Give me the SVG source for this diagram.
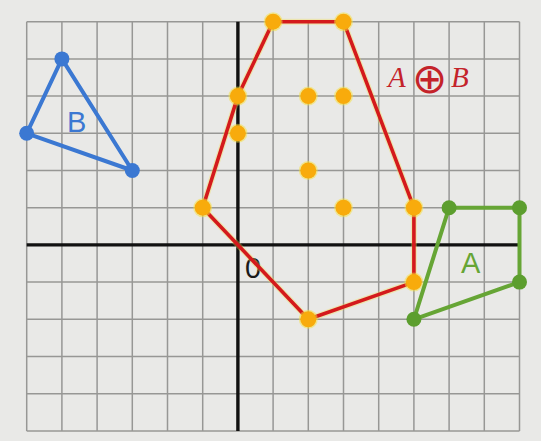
<svg xmlns="http://www.w3.org/2000/svg" width="541" height="441" viewBox="0 0 541 441">
<style>
.grid line{stroke:#979795;stroke-width:1.5}
.axis{stroke:#111;stroke-width:3.4}
.red{fill:none;stroke:#d41a1c;stroke-width:3.6;stroke-linejoin:round}
.redglow{fill:none;stroke:#f4e04a;stroke-width:6;stroke-linejoin:round;opacity:0.35}
.pt{fill:#f8ab0c}
.ptglow{fill:#f6e23c;opacity:0.5}
.blue{fill:none;stroke:#3b78d2;stroke-width:4;stroke-linejoin:round}
.bdot{fill:#3b78d2}
.green{fill:none;stroke:#66a535;stroke-width:4;stroke-linejoin:round}
.gdot{fill:#5c9e2e}
.lbl{font-family:"Liberation Sans",Arial,sans-serif;font-size:29px}
</style>
<rect width="541" height="441" fill="#e9e9e7"/>
<g class="grid" id="grid">
<line x1="26.7" y1="21.7" x2="26.7" y2="431"/>
<line x1="61.9" y1="21.7" x2="61.9" y2="431"/>
<line x1="97.1" y1="21.7" x2="97.1" y2="431"/>
<line x1="132.3" y1="21.7" x2="132.3" y2="431"/>
<line x1="167.5" y1="21.7" x2="167.5" y2="431"/>
<line x1="202.7" y1="21.7" x2="202.7" y2="431"/>
<line x1="273.1" y1="21.7" x2="273.1" y2="431"/>
<line x1="308.3" y1="21.7" x2="308.3" y2="431"/>
<line x1="343.5" y1="21.7" x2="343.5" y2="431"/>
<line x1="378.7" y1="21.7" x2="378.7" y2="431"/>
<line x1="413.9" y1="21.7" x2="413.9" y2="431"/>
<line x1="449.1" y1="21.7" x2="449.1" y2="431"/>
<line x1="484.3" y1="21.7" x2="484.3" y2="431"/>
<line x1="519.5" y1="21.7" x2="519.5" y2="431"/>
<line x1="26.7" y1="21.7" x2="519.5" y2="21.7"/>
<line x1="26.7" y1="58.9" x2="519.5" y2="58.9"/>
<line x1="26.7" y1="96.1" x2="519.5" y2="96.1"/>
<line x1="26.7" y1="133.3" x2="519.5" y2="133.3"/>
<line x1="26.7" y1="170.5" x2="519.5" y2="170.5"/>
<line x1="26.7" y1="207.7" x2="519.5" y2="207.7"/>
<line x1="26.7" y1="282.1" x2="519.5" y2="282.1"/>
<line x1="26.7" y1="319.3" x2="519.5" y2="319.3"/>
<line x1="26.7" y1="356.5" x2="519.5" y2="356.5"/>
<line x1="26.7" y1="393.7" x2="519.5" y2="393.7"/>
<line x1="26.7" y1="431" x2="519.5" y2="431"/>
</g>
<g id="axes">
<line class="axis" x1="26.7" y1="244.9" x2="519.5" y2="244.9"/>
<line class="axis" x1="237.9" y1="21.7" x2="237.9" y2="431"/>
<text class="lbl" x="245" y="278" fill="#1a1a1a">0</text>
</g>
<g id="sum">
<polygon class="redglow" points="273.1,21.7 343.5,21.7 413.9,207.7 413.9,282.1 308.3,319.3 202.7,207.7 237.9,96.1"/>
<polygon class="red" points="273.1,21.7 343.5,21.7 413.9,207.7 413.9,282.1 308.3,319.3 202.7,207.7 237.9,96.1"/>
<g class="ptglow">
<circle cx="273.1" cy="21.7" r="9.5"/><circle cx="343.5" cy="21.7" r="9.5"/><circle cx="413.9" cy="207.7" r="9.5"/><circle cx="413.9" cy="282.1" r="9.5"/><circle cx="308.3" cy="319.3" r="9.5"/><circle cx="202.7" cy="207.7" r="9.5"/><circle cx="237.9" cy="96.1" r="9.5"/><circle cx="237.9" cy="133.3" r="9.5"/><circle cx="308.3" cy="96.1" r="9.5"/><circle cx="343.5" cy="96.1" r="9.5"/><circle cx="308.3" cy="170.5" r="9.5"/><circle cx="343.5" cy="207.7" r="9.5"/>
</g>
<g class="pt">
<circle cx="273.1" cy="21.7" r="8"/><circle cx="343.5" cy="21.7" r="8"/><circle cx="413.9" cy="207.7" r="8"/><circle cx="413.9" cy="282.1" r="8"/><circle cx="308.3" cy="319.3" r="8"/><circle cx="202.7" cy="207.7" r="8"/><circle cx="237.9" cy="96.1" r="8"/><circle cx="237.9" cy="133.3" r="8"/><circle cx="308.3" cy="96.1" r="8"/><circle cx="343.5" cy="96.1" r="8"/><circle cx="308.3" cy="170.5" r="8"/><circle cx="343.5" cy="207.7" r="8"/>
</g>
<text y="87" fill="#c4232a" font-family="'Liberation Serif','Times New Roman',serif" font-style="italic" font-size="29"><tspan x="388">A</tspan><tspan x="412" y="93" font-family="'DejaVu Sans',sans-serif" font-style="normal" font-weight="200" font-size="42">⊕</tspan><tspan x="451" y="87">B</tspan></text>
</g>
<g id="shapeA">
<polygon class="green" points="449.1,207.7 519.5,207.7 519.5,282.1 413.9,319.3"/>
<g class="gdot"><circle cx="449.1" cy="207.7" r="7.5"/><circle cx="519.5" cy="207.7" r="7.5"/><circle cx="519.5" cy="282.1" r="7.5"/><circle cx="413.9" cy="319.3" r="7.5"/></g>
<text class="lbl" x="461" y="273" fill="#66a535">A</text>
</g>
<g id="shapeB">
<polygon class="blue" points="61.9,58.9 26.7,133.3 132.3,170.5"/>
<g class="bdot"><circle cx="61.9" cy="58.9" r="7.5"/><circle cx="26.7" cy="133.3" r="7.5"/><circle cx="132.3" cy="170.5" r="7.5"/></g>
<text class="lbl" x="67" y="132" fill="#3b78d2">B</text>
</g>
</svg>
